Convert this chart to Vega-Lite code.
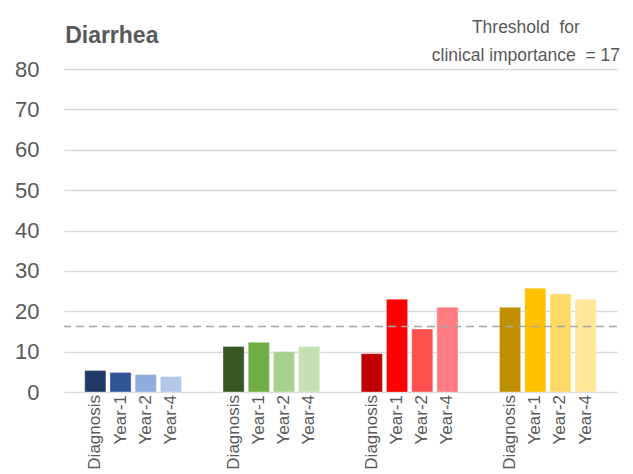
{
  "$schema": "https://vega.github.io/schema/vega-lite/v6.json",
  "width": 553,
  "height": 323,
  "autosize": {"type": "none"},
  "padding": {"left": 64, "top": 69, "right": 16, "bottom": 82},
  "background": "white",
  "config": {"view": {"stroke": null}},
  "datasets": {
    "bars": [
      {"group": "G1", "period": "Diagnosis", "key": "G1 Diagnosis", "value": 5.3},
      {"group": "G1", "period": "Year-1", "key": "G1 Year-1", "value": 4.85},
      {"group": "G1", "period": "Year-2", "key": "G1 Year-2", "value": 4.35},
      {"group": "G1", "period": "Year-4", "key": "G1 Year-4", "value": 3.85},
      {"group": "G2", "period": "Diagnosis", "key": "G2 Diagnosis", "value": 11.3},
      {"group": "G2", "period": "Year-1", "key": "G2 Year-1", "value": 12.3},
      {"group": "G2", "period": "Year-2", "key": "G2 Year-2", "value": 10.0},
      {"group": "G2", "period": "Year-4", "key": "G2 Year-4", "value": 11.3},
      {"group": "G3", "period": "Diagnosis", "key": "G3 Diagnosis", "value": 9.5},
      {"group": "G3", "period": "Year-1", "key": "G3 Year-1", "value": 23.0},
      {"group": "G3", "period": "Year-2", "key": "G3 Year-2", "value": 15.6},
      {"group": "G3", "period": "Year-4", "key": "G3 Year-4", "value": 21.0},
      {"group": "G4", "period": "Diagnosis", "key": "G4 Diagnosis", "value": 21.0},
      {"group": "G4", "period": "Year-1", "key": "G4 Year-1", "value": 25.7},
      {"group": "G4", "period": "Year-2", "key": "G4 Year-2", "value": 24.3},
      {"group": "G4", "period": "Year-4", "key": "G4 Year-4", "value": 23.0}
    ],
    "threshold": [{"threshold": 16.2, "title": "Diarrhea"}]
  },
  "layer": [
    {
      "data": {"name": "bars"},
      "mark": {"type": "bar", "stroke": "white", "strokeWidth": 0.6, "strokeOpacity": 0.6},
      "encoding": {
        "x": {"field": "group", "type": "nominal", "axis": null, "scale": {"domain": ["G1", "G2", "G3", "G4"], "paddingInner": 0.3, "paddingOuter": 0.15}},
        "xOffset": {"field": "period", "type": "nominal", "sort": ["Diagnosis", "Year-1", "Year-2", "Year-4"], "scale": {"paddingInner": 0.16, "paddingOuter": 0}},
        "y": {"field": "value", "type": "quantitative", "scale": {"domain": [0, 80], "nice": false},
          "axis": {"title": null, "values": [0, 10, 20, 30, 40, 50, 60, 70, 80], "domain": false, "ticks": false, "labelFont": "Liberation Sans", "labelFontSize": 22, "labelColor": "#595959", "labelPadding": 25, "gridColor": "#D9D9D9", "gridWidth": 1.3}},
        "color": {"field": "key", "type": "nominal", "legend": null,
          "scale": {
            "domain": ["G1 Diagnosis", "G1 Year-1", "G1 Year-2", "G1 Year-4", "G2 Diagnosis", "G2 Year-1", "G2 Year-2", "G2 Year-4", "G3 Diagnosis", "G3 Year-1", "G3 Year-2", "G3 Year-4", "G4 Diagnosis", "G4 Year-1", "G4 Year-2", "G4 Year-4"],
            "range": ["#203864", "#2F5597", "#8FAADC", "#B4C7E7", "#385723", "#70AD47", "#A9D18E", "#C5E0B4", "#C00000", "#FF0000", "#FF5050", "#FF7C80", "#BF8F00", "#FFC000", "#FFD966", "#FFE699"]
          }}
      }
    },
    {
      "data": {"name": "threshold"},
      "mark": {"type": "rule", "color": "#A6A6A6", "strokeWidth": 1.5, "strokeDash": [8, 5]},
      "encoding": {"y": {"field": "threshold", "type": "quantitative"}}
    },
    {
      "data": {"name": "bars"},
      "mark": {"type": "text", "angle": 270, "align": "right", "baseline": "middle", "dx": -3, "font": "Liberation Sans", "fontSize": 17, "color": "#595959"},
      "encoding": {
        "x": {"field": "group", "type": "nominal"},
        "xOffset": {"field": "period", "type": "nominal", "sort": ["Diagnosis", "Year-1", "Year-2", "Year-4"]},
        "y": {"datum": 0},
        "text": {"field": "period"}
      }
    },
    {
      "data": {"name": "threshold"},
      "mark": {"type": "text", "text": ["Threshold\u00a0 for", "clinical importance\u00a0 = 17"], "align": "center", "baseline": "alphabetic", "lineHeight": 28, "dx": -22, "dy": -36, "font": "Liberation Sans", "fontSize": 17.5, "color": "#595959"},
      "encoding": {
        "x": {"datum": "G4"},
        "y": {"datum": 80}
      }
    },
    {
      "data": {"name": "threshold"},
      "mark": {"type": "text", "align": "left", "baseline": "alphabetic", "dx": -68, "dy": -26, "font": "Liberation Sans", "fontWeight": "bold", "fontSize": 23, "color": "#595959"},
      "encoding": {
        "x": {"datum": "G1"},
        "y": {"datum": 80},
        "text": {"field": "title"}
      }
    }
  ]
}
